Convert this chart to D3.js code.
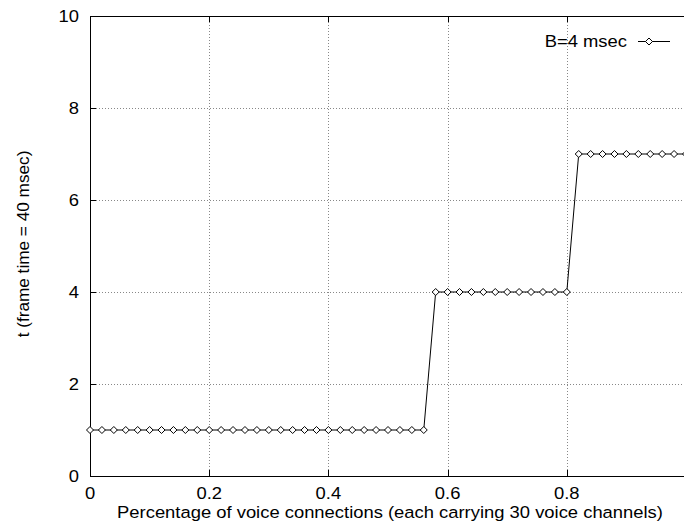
<!DOCTYPE html>
<html>
<head>
<meta charset="utf-8">
<script src="https://cdn.jsdelivr.net/npm/d3@7"></script>
<style>
  html, body { margin: 0; padding: 0; background: #fff; }
  svg { display: block; font-family: "Liberation Sans", Arial, Helvetica, sans-serif; }
</style>
</head>
<body>
<svg id="chart" width="684" height="525"></svg>
<script>
// Fraction of voice connections (x) and resulting t in frames (y)
const fractions = [
  0.00, 0.02, 0.04, 0.06, 0.08, 0.10, 0.12, 0.14, 0.16, 0.18,
  0.20, 0.22, 0.24, 0.26, 0.28, 0.30, 0.32, 0.34, 0.36, 0.38,
  0.40, 0.42, 0.44, 0.46, 0.48, 0.50, 0.52, 0.54, 0.56, 0.58,
  0.60, 0.62, 0.64, 0.66, 0.68, 0.70, 0.72, 0.74, 0.76, 0.78,
  0.80, 0.82, 0.84, 0.86, 0.88, 0.90, 0.92, 0.94, 0.96, 0.98,
  1.00
];
const tValues = [
  1, 1, 1, 1, 1, 1, 1, 1, 1, 1,
  1, 1, 1, 1, 1, 1, 1, 1, 1, 1,
  1, 1, 1, 1, 1, 1, 1, 1, 1, 4,
  4, 4, 4, 4, 4, 4, 4, 4, 4, 4,
  4, 7, 7, 7, 7, 7, 7, 7, 7, 7,
  7
];
const xTicks = [0, 0.2, 0.4, 0.6, 0.8];
const yTicks = [0, 2, 4, 6, 8, 10];
const seriesName = "B=4 msec";
const xTitle = "Percentage of voice connections (each carrying 30 voice channels)";
const yTitle = "t (frame time = 40 msec)";

(function draw() {
  const svg = d3.select("#chart");
  const pl = 90, pr = 686, pt = 16, pb = 476;
  const fs = 17.2;        // label font size
  const sx = 1.07;        // glyphs are drawn slightly wide

  const x = d3.scaleLinear().domain([0, 1]).range([pl, pr]);
  const y = d3.scaleLinear().domain([0, 10]).range([pb, pt]);
  const px = v => Math.round(v) + 0.5;

  // dotted grid
  const grid = svg.append("g").attr("stroke", "#888").attr("stroke-width", 1)
    .attr("stroke-dasharray", "1,2").attr("shape-rendering", "crispEdges");
  grid.selectAll("line.gx").data(xTicks.filter(d => d > 0)).join("line")
    .attr("x1", d => px(x(d))).attr("x2", d => px(x(d)))
    .attr("y1", pt).attr("y2", pb);
  grid.selectAll("line.gy").data(yTicks.filter(d => d > 0 && d < 10)).join("line")
    .attr("y1", d => px(y(d))).attr("y2", d => px(y(d)))
    .attr("x1", pl).attr("x2", pr);

  // border
  svg.append("rect")
    .attr("x", pl + 0.5).attr("y", pt + 0.5)
    .attr("width", pr - pl).attr("height", pb - pt)
    .attr("fill", "none").attr("stroke", "#000").attr("stroke-width", 1)
    .attr("shape-rendering", "crispEdges");

  // inward ticks
  const ticks = svg.append("g").attr("stroke", "#000").attr("shape-rendering", "crispEdges");
  ticks.selectAll("line.tx").data(xTicks).join("line")
    .attr("x1", d => px(x(d))).attr("x2", d => px(x(d)))
    .attr("y1", pb).attr("y2", pb - 6);
  ticks.selectAll("line.tx2").data(xTicks).join("line")
    .attr("x1", d => px(x(d))).attr("x2", d => px(x(d)))
    .attr("y1", pt).attr("y2", pt + 6);
  ticks.selectAll("line.ty").data(yTicks).join("line")
    .attr("y1", d => px(y(d))).attr("y2", d => px(y(d)))
    .attr("x1", pl).attr("x2", pl + 6);

  // tick labels
  svg.append("g").selectAll("text").data(xTicks).join("text")
    .attr("transform", d => `translate(${x(d)},498.5) scale(${sx},1)`)
    .attr("text-anchor", "middle").attr("font-size", fs)
    .text(d => String(d));
  svg.append("g").selectAll("text").data(yTicks).join("text")
    .attr("transform", d => `translate(79,${y(d)}) scale(${sx},1)`)
    .attr("dy", "0.36em")
    .attr("text-anchor", "end").attr("font-size", fs)
    .text(d => d);

  // axis titles
  svg.append("text").attr("transform", `translate(390,517.5) scale(${sx},1)`)
    .attr("text-anchor", "middle").attr("font-size", fs).text(xTitle);
  svg.append("text")
    .attr("transform", `translate(29,244) rotate(-90)`)
    .attr("text-anchor", "middle").attr("font-size", fs).text(yTitle);

  // series
  const pts = fractions.map((f, i) => [f, tValues[i]]);
  svg.append("path").datum(pts)
    .attr("fill", "none").attr("stroke", "#000").attr("stroke-width", 1)
    .attr("d", d3.line().x(d => x(d[0])).y(d => y(d[1])));

  const diamond = "M0,-3.5L3.5,0L0,3.5L-3.5,0Z";
  svg.append("g").selectAll("path").data(pts).join("path")
    .attr("transform", d => `translate(${x(d[0])},${y(d[1])})`)
    .attr("d", diamond).attr("fill", "#fff").attr("stroke", "#000").attr("stroke-width", 1);

  // legend
  svg.append("text").attr("transform", `translate(627,41) scale(${sx},1)`).attr("dy", "0.36em")
    .attr("text-anchor", "end").attr("font-size", fs).text(seriesName);
  svg.append("line").attr("x1", 638).attr("x2", 670).attr("y1", 41.5).attr("y2", 41.5)
    .attr("stroke", "#000");
  svg.append("path").attr("transform", "translate(649,41.5)").attr("d", diamond)
    .attr("fill", "#fff").attr("stroke", "#000");
})();
</script>
</body>
</html>
